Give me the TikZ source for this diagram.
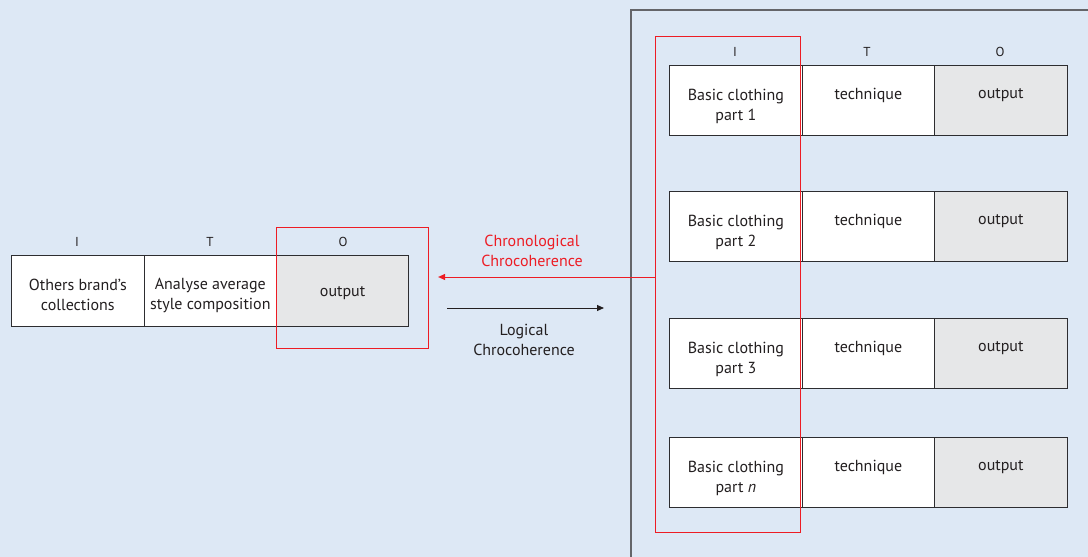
\documentclass[tikz,border=0pt]{standalone}
\usepackage{fontspec}
\setmainfont{PT Sans}
\usetikzlibrary{arrows.meta}
\definecolor{bg}{RGB}{221,232,245}
\definecolor{ink}{RGB}{35,31,32}
\definecolor{cellline}{RGB}{45,45,48}
\definecolor{outfill}{RGB}{230,231,232}
\definecolor{framegray}{RGB}{100,101,105}
\definecolor{hired}{RGB}{237,28,36}
\begin{document}
\begin{tikzpicture}[x=1pt,y=-1pt,
  cell/.style={draw=cellline, line width=1.2pt, fill=white, minimum width=132.5,
    minimum height=71, inner sep=0, anchor=north west},
  outcell/.style={cell, fill=outfill},
  celltext/.style={text=ink, font=\fontsize{16}{20}\selectfont, align=center, inner sep=0},
  colhead/.style={text=ink, font=\fontsize{13}{15}\selectfont, inner sep=0},
  hibox/.style={draw=hired, line width=1.1pt, inner sep=0, anchor=north west},
  chrono/.style={draw=hired, line width=1pt, -{Triangle[length=7pt,width=6pt]}},
  logic/.style={draw=ink, line width=1pt, -{Triangle[length=7pt,width=6pt]}},
  arrowtext/.style={font=\fontsize{16}{20}\selectfont, align=center, inner sep=0}]
\fill[bg] (0,0) rectangle (1088,557);
\useasboundingbox (0,0) rectangle (1088,557);

% surrounding frame of the part sequence
\draw[framegray, line width=1.5pt] (631,557) -- (631,10) -- (1088,10);

% single input-technique-output row
\node[colhead] (hI) at (77,242) {I};
\node[colhead] (hT) at (210,242) {T};
\node[colhead] (hO) at (343,242) {O};
\node[cell] (a1) at (11,255) {};
\node[cell] (a2) at (143.5,255) {};
\node[outcell, minimum width=132] (a3) at (276,255) {};
\node[celltext] (a1t) at ([yshift=-4]a1.center) {Others brand’s\\collections};
\node[celltext] (a2t) at ([yshift=-4]a2.center) {Analyse average\\style composition};
\node[celltext] (a3t) at ([yshift=-2]a3.center) {output};

% column heads of the part rows
\node[colhead] (pI) at (735,52) {I};
\node[colhead] (pT) at (867,52) {T};
\node[colhead] (pO) at (1000,52) {O};

% one row per clothing part
\foreach \r/\y/\p in {1/65/1, 2/191/2, 3/318/3, 4/437/{\textit{n}}} {
  \node[cell, minimum height=70] (r\r i) at (669,\y) {};
  \node[cell, minimum height=70] (r\r t) at (801.5,\y) {};
  \node[outcell, minimum height=70] (r\r o) at (934,\y) {};
  \node[celltext] (r\r it) at ([yshift=-41]r\r i.north) {Basic clothing\\part \p};
  \node[celltext] (r\r tt) at ([yshift=-30]r\r t.north) {technique};
  \node[celltext] (r\r ot) at ([yshift=-30]r\r o.north) {output};
}

% highlighted input column and output cell
\node[hibox, minimum width=145, minimum height=496] (rbox) at (655,36) {};
\node[hibox, minimum width=152, minimum height=121] (lbox) at (276,227) {};

% chrocoherence connectors
\coordinate (chronoEnd) at (lbox.east |- 0,277);
\coordinate (chronoEndTip) at ([xshift=9]chronoEnd);
\draw[chrono] (rbox.west |- chronoEnd) -- (chronoEndTip);
\node[arrowtext, text=hired] (chronoText) at (532,251) {Chronological\\Chrocoherence};

\coordinate (logicStart) at (447,308);
\coordinate (logicEnd) at (604,308);
\draw[logic] (logicStart) -- (logicEnd);
\node[arrowtext, text=ink] (logicText) at (524,340) {Logical\\Chrocoherence};
\end{tikzpicture}
\end{document}
